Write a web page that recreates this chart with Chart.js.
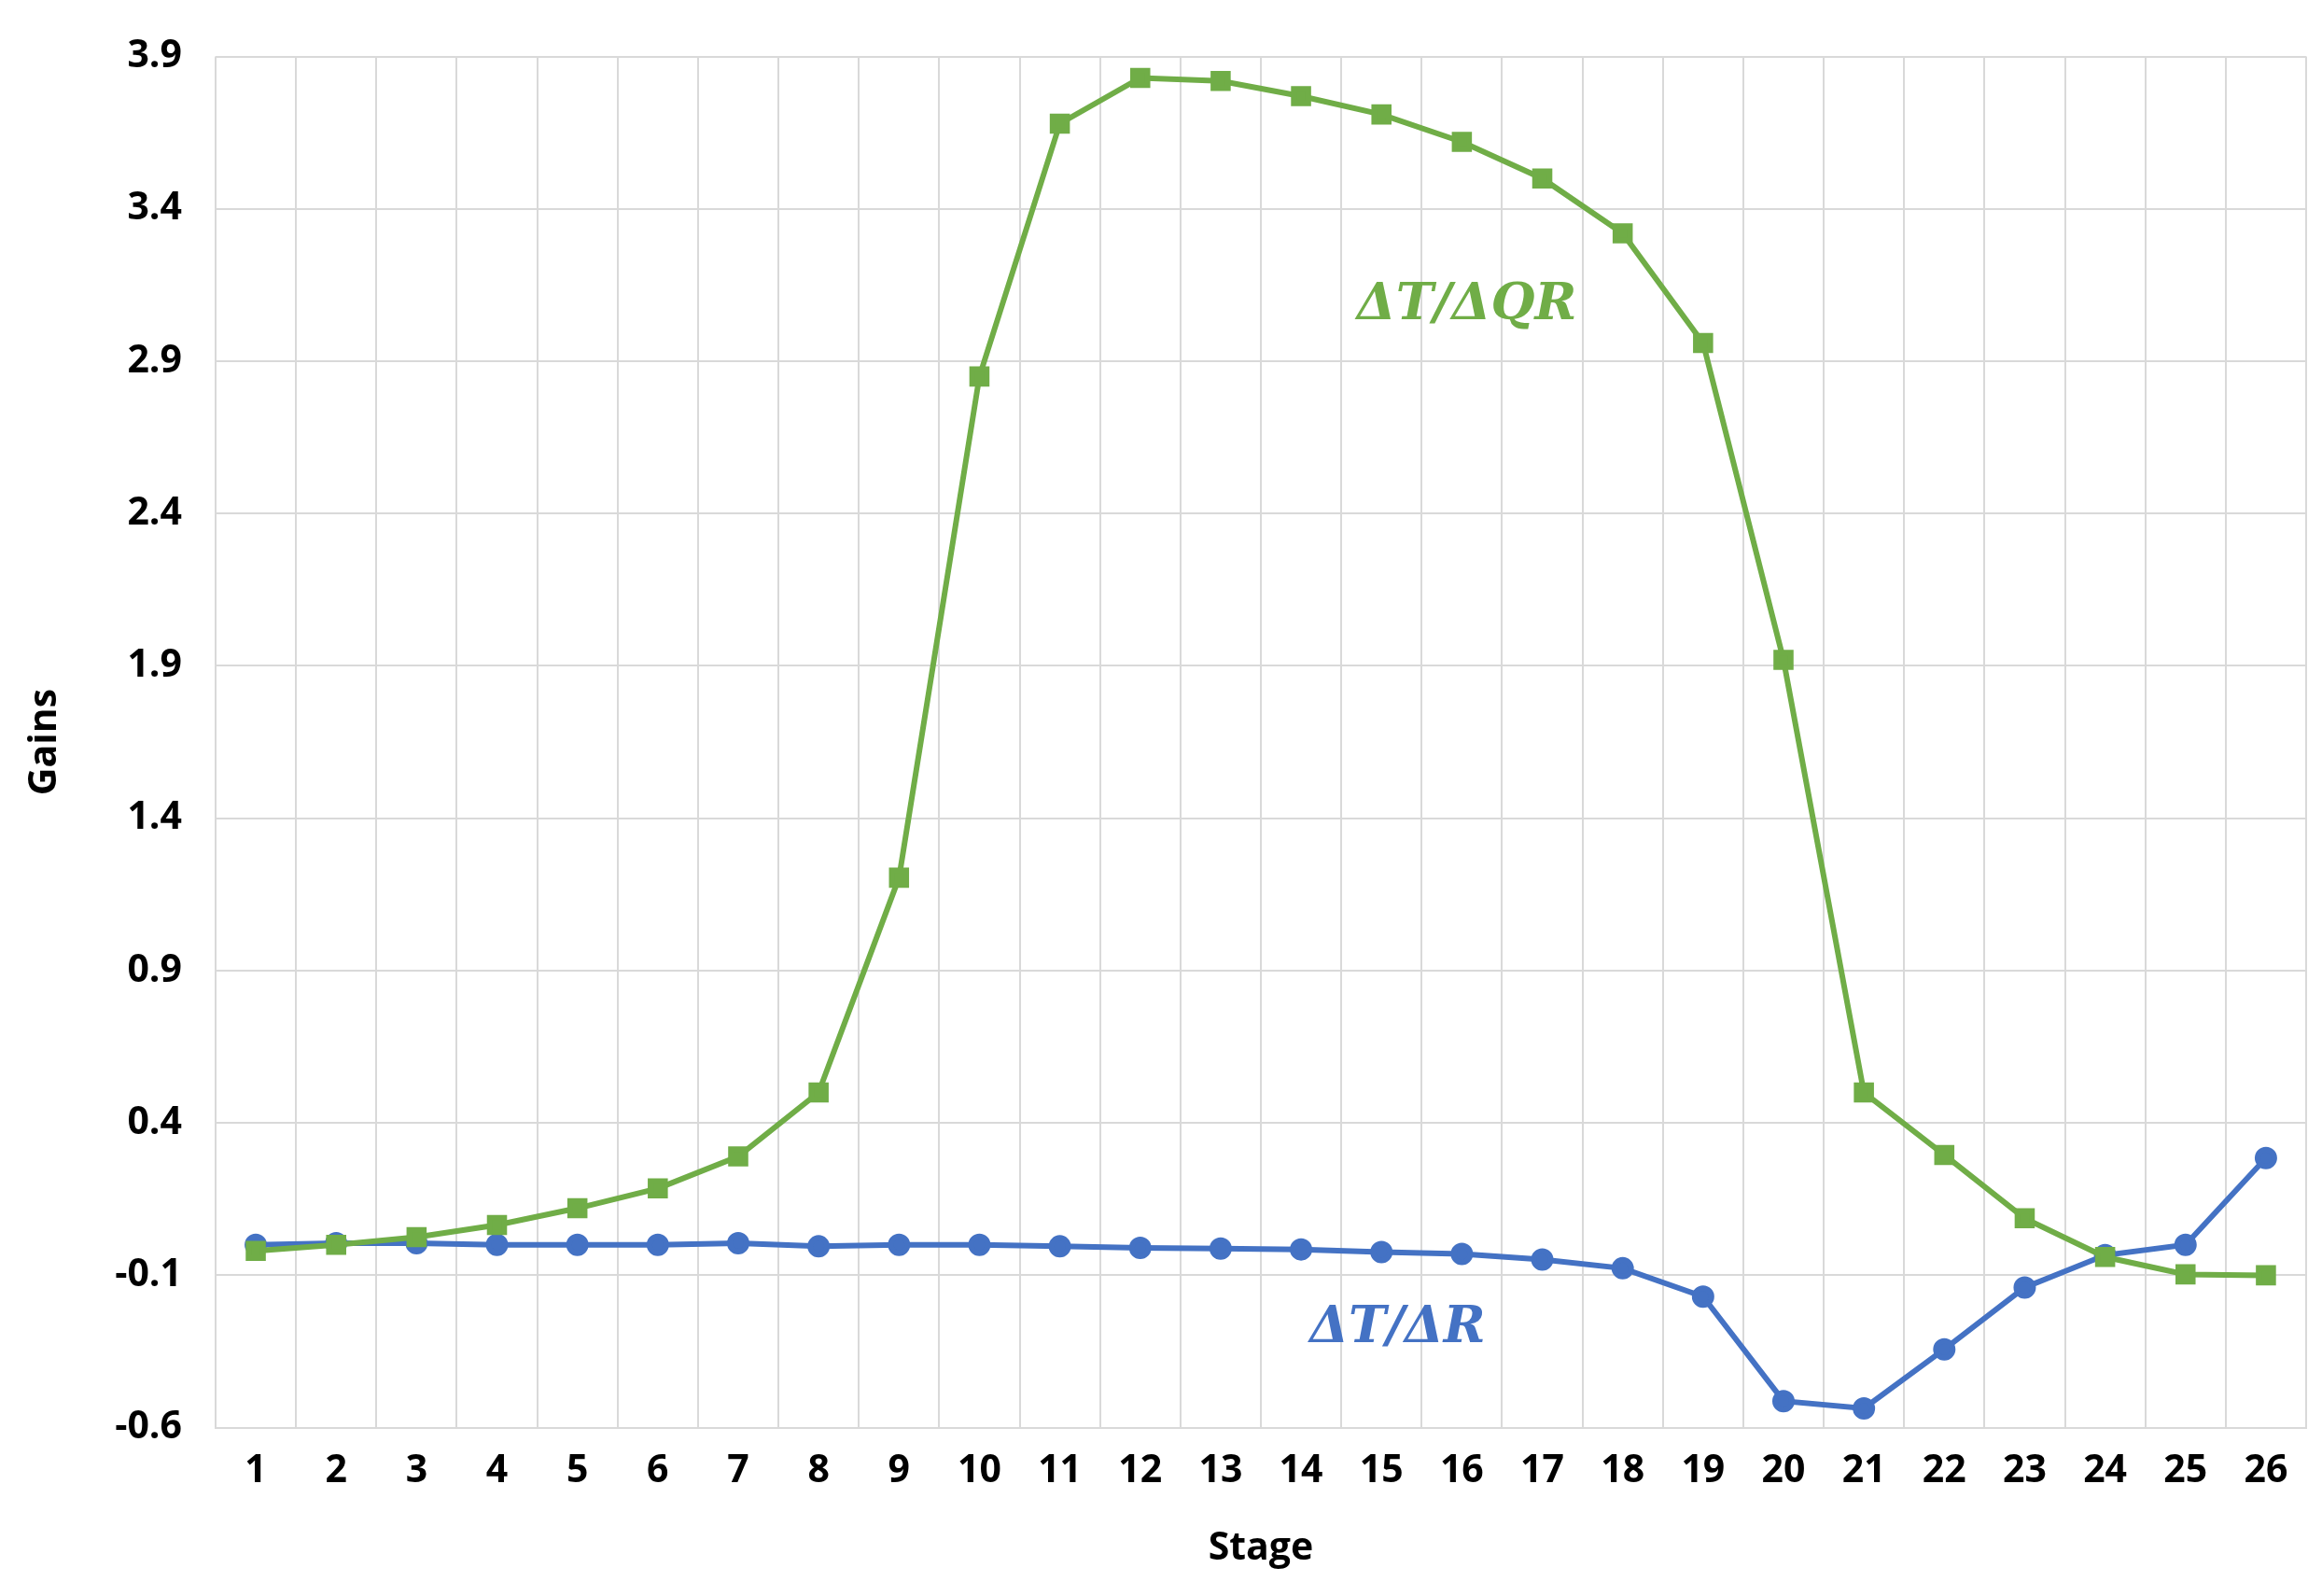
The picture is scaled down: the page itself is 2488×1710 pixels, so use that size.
<!DOCTYPE html>
<html>
<head>
<meta charset="utf-8">
<script src="https://cdn.jsdelivr.net/npm/chart.js@4/dist/chart.umd.min.js"></script>
<style>
body { margin: 0; background: #fff; }
#wrap { width: 2488px; height: 1710px; }
</style>
</head>
<body>
<div id="wrap"><canvas id="grafico"></canvas></div>
<script>
const stages = ["1","2","3","4","5","6","7","8","9","10","11","12","13","14","15","16","17","18","19","20","21","22","23","24","25","26"];
const gainQR = [-0.02, 0.0, 0.025, 0.065, 0.12, 0.185, 0.29, 0.50, 1.205, 2.85, 3.68, 3.83, 3.82, 3.77, 3.71, 3.62, 3.50, 3.32, 2.96, 1.92, 0.50, 0.295, 0.087, -0.04, -0.097, -0.10];
const gainR = [0.0, 0.005, 0.005, 0.0, 0.0, 0.0, 0.005, -0.005, 0.0, 0.0, -0.005, -0.01, -0.012, -0.015, -0.024, -0.03, -0.048, -0.077, -0.17, -0.513, -0.537, -0.343, -0.14, -0.034, 0.0, 0.285];
const yTicks = [-0.6, -0.1, 0.4, 0.9, 1.4, 1.9, 2.4, 2.9, 3.4, 3.9];

const verde = "#70AD47";
const azul = "#4472C4";

// etiquetas de las series dentro del grafico
const etiquetas = {
	id: "etiquetas",
	afterDatasetsDraw(chart) {
		const { ctx, scales } = chart;
		ctx.save();
		ctx.font = "italic bold 54px 'DejaVu Serif'";
		ctx.textAlign = "center";
		ctx.textBaseline = "middle";
		ctx.fillStyle = verde;
		ctx.fillText("ΔT/ΔQR", scales.x.getPixelForValue(15.06), scales.y.getPixelForValue(3.08));
		ctx.fillStyle = azul;
		ctx.fillText("ΔT/ΔR", scales.x.getPixelForValue(14.2), scales.y.getPixelForValue(-0.276));
		ctx.restore();
	},
};

const ticksFont = { family: "'Open Sans', 'DejaVu Sans'", size: 41, weight: "bold" };

new Chart(document.getElementById("grafico"), {
	type: "line",
	data: {
		labels: stages,
		datasets: [
			{
				label: "ΔT/ΔQR",
				data: gainQR,
				borderColor: verde,
				backgroundColor: verde,
				borderWidth: 6,
				pointStyle: "rect",
				pointRadius: 11,
				pointHoverRadius: 11,
				tension: 0,
			},
			{
				label: "ΔT/ΔR",
				data: gainR,
				borderColor: azul,
				backgroundColor: azul,
				borderWidth: 6,
				pointStyle: "circle",
				pointRadius: 9,
				pointHoverRadius: 9,
				tension: 0,
			},
		],
	},
	plugins: [etiquetas],
	options: {
		responsive: true,
		maintainAspectRatio: false,
		devicePixelRatio: 1,
		animation: false,
		layout: { padding: { top: 28, right: 14, left: 20, bottom: 22 } },
		plugins: { legend: { display: false }, tooltip: { enabled: false } },
		scales: {
			x: {
				offset: true,
				grid: { offset: true, color: "#d9d9d9", lineWidth: 2, drawTicks: false },
				border: { color: "#d9d9d9", width: 2 },
				ticks: { color: "#000", font: ticksFont, padding: 22 },
				title: { display: true, text: "Stage", color: "#000", font: ticksFont, padding: { top: 12 } },
			},
			y: {
				min: -0.6,
				max: 3.9,
				afterBuildTicks: (axis) => { axis.ticks = yTicks.map((v) => ({ value: v })); },
				grid: { color: "#d9d9d9", lineWidth: 2, drawTicks: false },
				border: { display: false },
				ticks: { color: "#000", font: ticksFont, padding: 36, callback: (v) => v.toFixed(1) },
				title: { display: true, text: "Gains", color: "#000", font: ticksFont, padding: { bottom: 14 } },
			},
		},
	},
});
</script>
</body>
</html>
